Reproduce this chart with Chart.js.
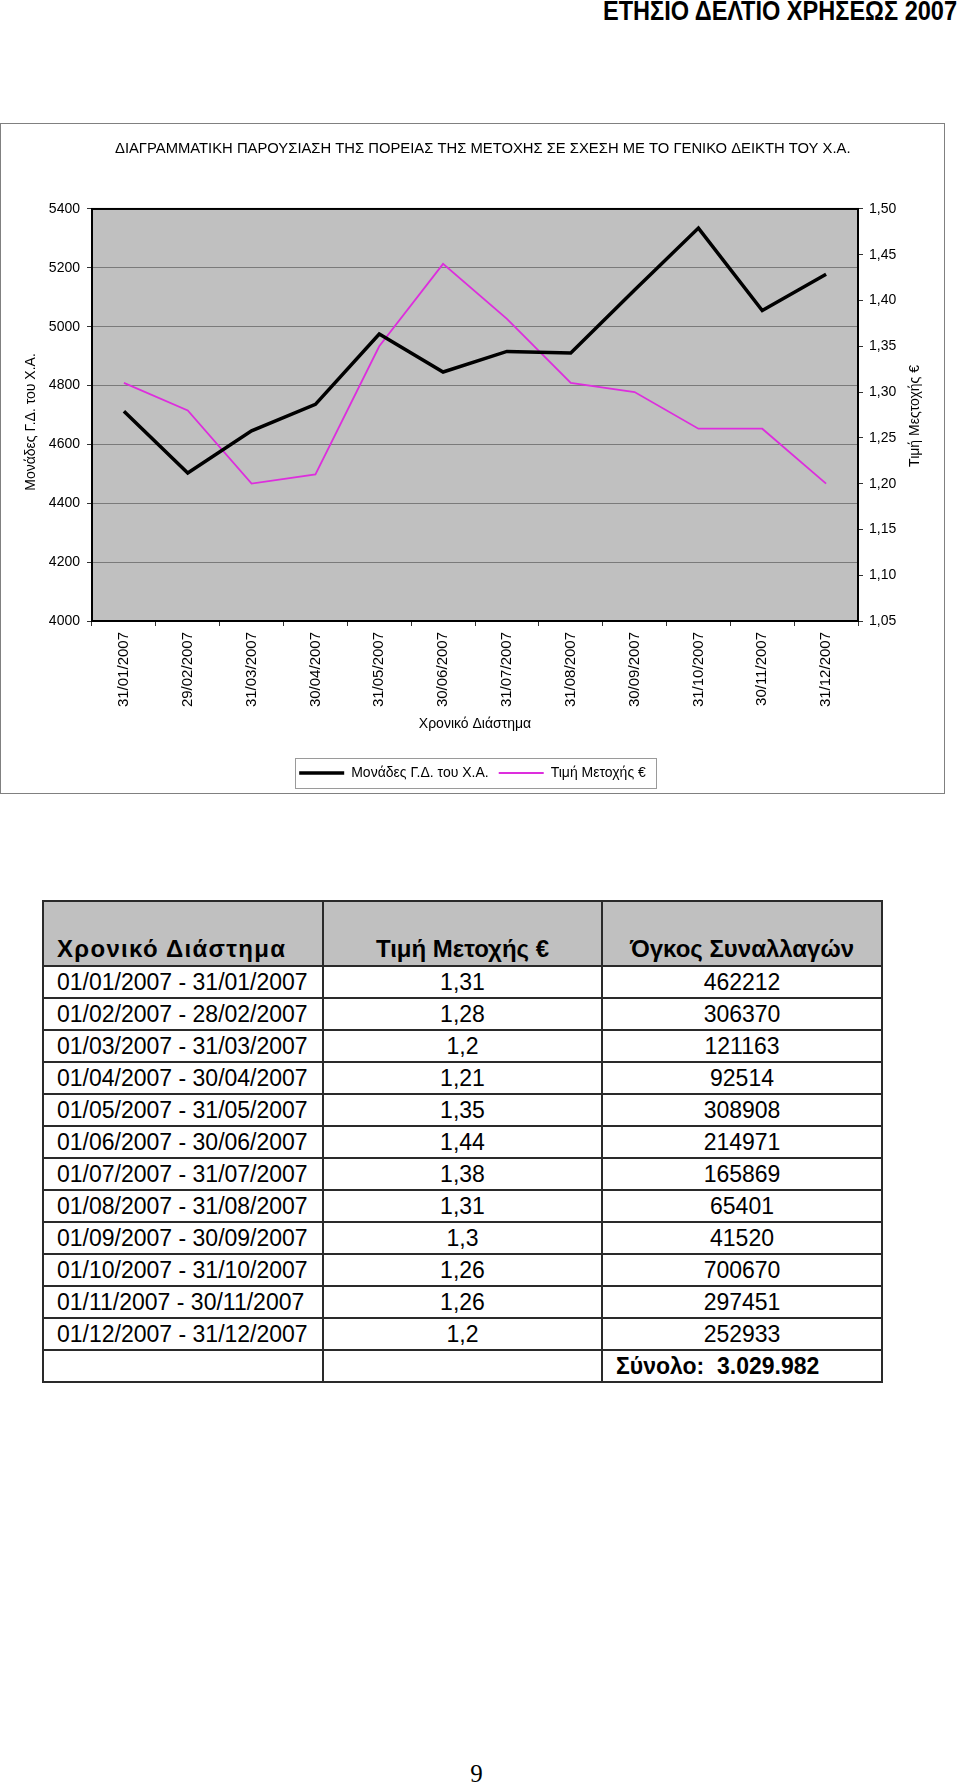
<!DOCTYPE html>
<html>
<head>
<meta charset="utf-8">
<script src="https://cdn.jsdelivr.net/npm/chart.js@4.4.0/dist/chart.umd.min.js"></script>
<style>
  body { margin: 0; background: #fff; }
  #page { position: relative; width: 960px; height: 1786px; overflow: hidden; font-family: 'Liberation Sans', Arial, sans-serif; }
  #head { position: absolute; right: 3px; top: -4px; font-weight: bold; font-size: 27px; line-height: 30px; transform: scaleX(0.872); transform-origin: right center; white-space: nowrap; }
  #box { position: absolute; left: 0; top: 123px; width: 943px; height: 669px; border: 1px solid #808080; }
  #box canvas { display: block; }
  #tbl { position: absolute; left: 42px; top: 900px; border-collapse: collapse; font-size: 23px; table-layout: fixed; }
  #tbl td, #tbl th { border: 2px solid #2a2a2a; padding: 0 13px; text-align: center; white-space: pre; }
  #tbl th { background: #c0c0c0; vertical-align: bottom; padding-bottom: 2px; font-weight: bold; font-size: 24px; }
  #tbl tr { height: 32px; }
  #tbl tr.hd { height: 65px; }
  #tbl td.c1, #tbl th.c1 { text-align: left; }
  #tbl th.c1 { letter-spacing: 1.3px; }
  #tbl td.tot { text-align: left; font-weight: bold; }
  #pnum { position: absolute; left: 0; width: 953px; top: 1760px; text-align: center; font-family: 'Liberation Serif', 'Times New Roman', serif; font-size: 25px; }
</style>
</head>
<body>
<div id="page">
  <div id="head">ΕΤΗΣΙΟ ΔΕΛΤΙΟ ΧΡΗΣΕΩΣ 2007</div>
  <div id="box"><canvas id="grafico" width="943" height="669"></canvas></div>
  <table id="tbl">
    <colgroup><col style="width:280px"><col style="width:279px"><col style="width:280px"></colgroup>
    <tbody id="cuerpo"></tbody>
  </table>
  <div id="pnum">9</div>
</div>
<script>
// fechas del eje x
const meses = ['31/01/2007', '29/02/2007', '31/03/2007', '30/04/2007', '31/05/2007', '30/06/2007',
               '31/07/2007', '31/08/2007', '30/09/2007', '31/10/2007', '30/11/2007', '31/12/2007'];
// Μονάδες Γ.Δ. του Χ.Α.
const indice = [4713, 4503, 4646, 4736, 4975, 4846, 4916, 4911, 5125, 5335, 5055, 5178];
// Τιμή Μετοχής €
const precio = [1.31, 1.28, 1.2, 1.21, 1.35, 1.44, 1.38, 1.31, 1.3, 1.26, 1.26, 1.2];
// ticks de los dos ejes
const ticksIzq = [4000, 4200, 4400, 4600, 4800, 5000, 5200, 5400];
const ticksDer = [1.05, 1.10, 1.15, 1.20, 1.25, 1.30, 1.35, 1.40, 1.45, 1.50];
const tituloIzq = 'Μονάδες Γ.Δ. του Χ.Α.';
const tituloDer = 'Τιμή Μεςτοχής €';

// tabla
const periodos = ['01/01/2007 - 31/01/2007', '01/02/2007 - 28/02/2007', '01/03/2007 - 31/03/2007',
                  '01/04/2007 - 30/04/2007', '01/05/2007 - 31/05/2007', '01/06/2007 - 30/06/2007',
                  '01/07/2007 - 31/07/2007', '01/08/2007 - 31/08/2007', '01/09/2007 - 30/09/2007',
                  '01/10/2007 - 31/10/2007', '01/11/2007 - 30/11/2007', '01/12/2007 - 31/12/2007'];
const volumen = [462212, 306370, 121163, 92514, 308908, 214971, 165869, 65401, 41520, 700670, 297451, 252933];
const cabecera = ['Χρονικό Διάστημα', 'Τιμή Μετοχής €', 'Όγκος Συναλλαγών'];

let html = '<tr class="hd"><th class="c1">' + cabecera[0] + '</th><th>' + cabecera[1] + '</th><th>' + cabecera[2] + '</th></tr>';
let total = 0;
for (let i = 0; i < periodos.length; i++) {
  total += volumen[i];
  html += '<tr><td class="c1">' + periodos[i] + '</td><td>' + String(precio[i]).replace('.', ',') +
          '</td><td>' + volumen[i] + '</td></tr>';
}
html += '<tr><td></td><td></td><td class="tot">Σύνολο:  ' + total.toLocaleString('de-DE') + '</td></tr>';
document.getElementById('cuerpo').innerHTML = html;

Chart.defaults.font.family = "'Liberation Sans', Arial, sans-serif";
Chart.defaults.font.size = 14;
Chart.defaults.color = '#000';

// fondo gris y marco del area de trazado, marco de la leyenda, titulos de ejes
const marco = {
  id: 'marco',
  beforeDraw(chart) {
    const a = chart.chartArea, c = chart.ctx;
    c.save();
    c.fillStyle = '#c0c0c0';
    c.fillRect(a.left, a.top, a.right - a.left, a.bottom - a.top);
    c.restore();
  },
  beforeDatasetsDraw(chart) {
    const a = chart.chartArea, c = chart.ctx;
    c.save();
    c.strokeStyle = '#000';
    c.lineWidth = 2;
    c.strokeRect(a.left, a.top, a.right - a.left, a.bottom - a.top);
    c.restore();
  },
  afterDraw(chart) {
    const c = chart.ctx;
    const a = chart.chartArea;
    const yc = (a.top + a.bottom) / 2;
    // los dos titulos se leen de abajo hacia arriba
    c.save();
    c.fillStyle = '#000';
    c.font = "14px 'Liberation Sans', Arial, sans-serif";
    c.textAlign = 'center';
    c.textBaseline = 'middle';
    c.save();
    c.translate(chart.scales.y.left + 30, yc + 7);
    c.rotate(-Math.PI / 2);
    c.fillText(tituloIzq, 0, 0);
    c.restore();
    c.save();
    c.translate(chart.scales.y1.right - 29, yc + 1);
    c.rotate(-Math.PI / 2);
    c.fillText(tituloDer, 0, 0);
    c.restore();
    c.restore();

    const hb = chart.legend.legendHitBoxes;
    if (!hb || !hb.length) return;
    const x0 = hb[0].left - 4;
    const x1 = hb[hb.length - 1].left + hb[hb.length - 1].width + 10;
    const ym = hb[0].top + hb[0].height / 2;
    c.save();
    c.strokeStyle = '#9a9a9a';
    c.lineWidth = 1;
    c.strokeRect(Math.round(x0) + 0.5, Math.round(ym - 15) + 0.5, Math.round(x1 - x0), 30);
    c.restore();
  }
};

const ctx = document.getElementById('grafico').getContext('2d');
const myChart = new Chart(ctx, {
  type: 'line',
  data: {
    labels: meses,
    datasets: [{
      label: 'Μονάδες Γ.Δ. του Χ.Α.',
      data: indice,
      yAxisID: 'y',
      borderColor: '#000000',
      backgroundColor: '#000000',
      borderWidth: 3.5,
      pointRadius: 0,
      tension: 0,
      fill: false
    }, {
      label: 'Τιμή Μετοχής €',
      data: precio,
      yAxisID: 'y1',
      borderColor: '#dd2edd',
      backgroundColor: '#dd2edd',
      borderWidth: 1.8,
      pointRadius: 0,
      tension: 0,
      fill: false
    }]
  },
  options: {
    responsive: false,
    animation: false,
    layout: { padding: { bottom: 3 } },
    plugins: {
      title: {
        display: true,
        text: '\u00a0\u00a0\u00a0\u00a0\u00a0ΔΙΑΓΡΑΜΜΑΤΙΚΗ ΠΑΡΟΥΣΙΑΣΗ ΤΗΣ ΠΟΡΕΙΑΣ ΤΗΣ ΜΕΤΟΧΗΣ ΣΕ ΣΧΕΣΗ ΜΕ ΤΟ ΓΕΝΙΚΟ ΔΕΙΚΤΗ ΤΟΥ Χ.Α.',
        color: '#000',
        font: { size: 14.8, weight: 'normal' },
        padding: { top: 16.1, bottom: 51.1 }
      },
      legend: {
        position: 'bottom',
        labels: {
          usePointStyle: true,
          pointStyle: 'line',
          pointStyleWidth: 45,
          padding: 10,
          color: '#000',
          font: { size: 14 }
        }
      },
      tooltip: { enabled: false }
    },
    scales: {
      x: {
        offset: true,
        afterFit: s => { s.height = 135; },
        grid: { offset: true, drawOnChartArea: false, drawTicks: true, tickLength: 5, tickColor: '#333' },
        border: { display: false },
        ticks: { autoSkip: false, minRotation: 90, maxRotation: 90, padding: 6, font: { size: 15 } },
        title: { display: true, text: 'Χρονικό Διάστημα', font: { size: 14 }, padding: { top: 0, bottom: 23.6 } }
      },
      y: {
        position: 'left',
        min: 4000,
        max: 5400,
        afterFit: s => { s.width = 91; },
        afterBuildTicks: s => { s.ticks = ticksIzq.map(v => ({ value: v })); },
        grid: { color: '#7a7a7a', lineWidth: 1, tickLength: 5, tickColor: '#333' },
        border: { display: false },
        ticks: { padding: 7, callback: v => String(v) }
      },
      y1: {
        position: 'right',
        min: 1.05,
        max: 1.5,
        afterFit: s => { s.width = 86; },
        afterBuildTicks: s => { s.ticks = ticksDer.map(v => ({ value: v })); },
        grid: { drawOnChartArea: false, tickLength: 5, tickColor: '#333' },
        border: { display: false },
        ticks: { padding: 6, callback: v => v.toFixed(2).replace('.', ',') }
      }
    }
  },
  plugins: [marco]
});
</script>
</body>
</html>
